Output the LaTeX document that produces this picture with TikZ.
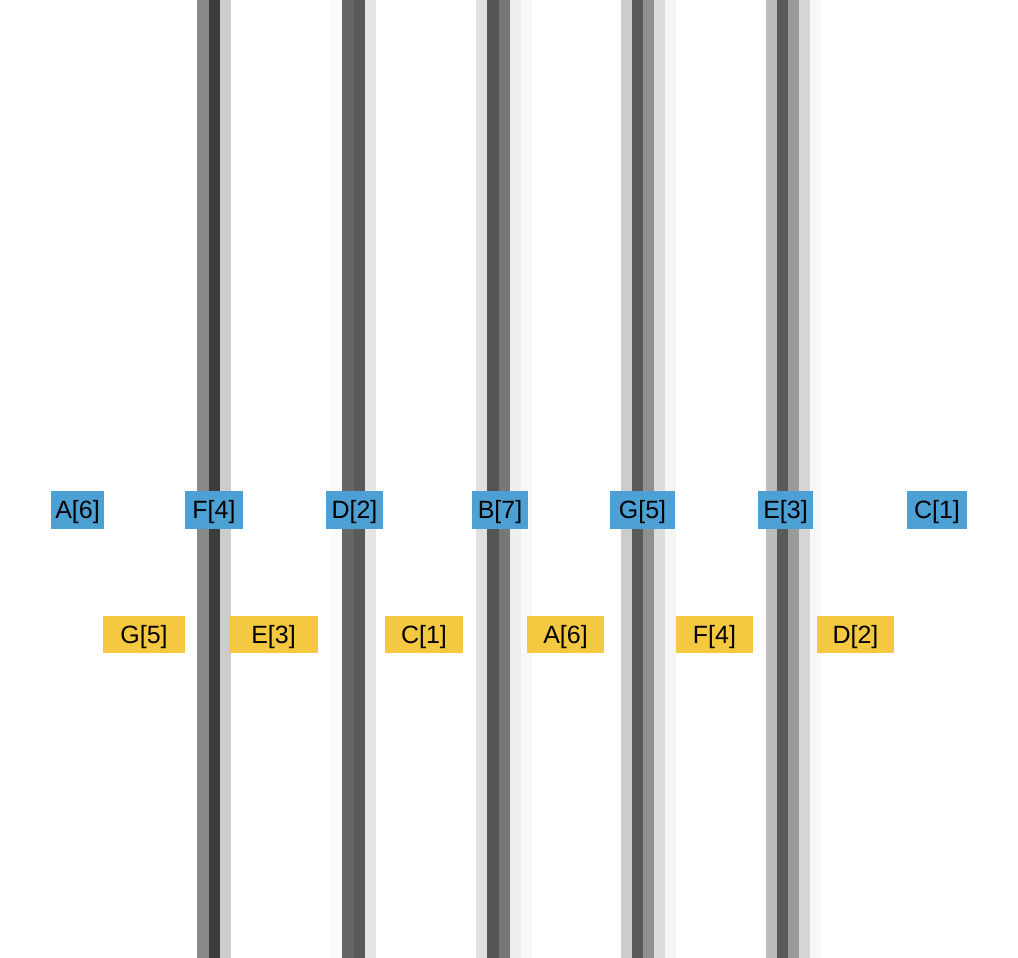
\documentclass[tikz,border=0pt]{standalone}
\usepackage{fontspec}
\setmainfont{Liberation Sans}
\definecolor{lblblue}{HTML}{4DA0D3}
\definecolor{lblyellow}{HTML}{F5C842}
\begin{document}
\begin{tikzpicture}[x=1pt,y=1pt,
  lblbase/.style={rectangle, inner sep=0pt, text height=18pt, text depth=0pt, font=\fontsize{25}{25}\selectfont, text=black},
  toplbl/.style={lblbase, fill=lblblue, minimum height=38pt},
  botlbl/.style={lblbase, fill=lblyellow, minimum height=37pt}]
\useasboundingbox (0,0) rectangle (1018,958);
\fill[white] (0,0) rectangle (1018,958);
% stripes: helper
\def\stripe#1#2#3{\fill[fill=#3] (#1,0) rectangle (#2,958);}
% F bar
\definecolor{s1}{HTML}{888888}\definecolor{s2}{HTML}{3C3C3C}\definecolor{s3}{HTML}{CCCCCC}
\stripe{197}{208.5}{s1}\stripe{208.5}{220}{s2}\stripe{220}{231}{s3}
% D bar
\definecolor{d1}{HTML}{FAFAFA}\definecolor{d2}{HTML}{666666}\definecolor{d3}{HTML}{5A5A5A}\definecolor{d4}{HTML}{E6E6E6}
\stripe{331}{342}{d1}\stripe{342}{353.5}{d2}\stripe{353.5}{365}{d3}\stripe{365}{376}{d4}
% B bar
\definecolor{b1}{HTML}{E0E0E0}\definecolor{b2}{HTML}{555555}\definecolor{b3}{HTML}{777777}\definecolor{b4}{HTML}{EEEEEE}\definecolor{b5}{HTML}{F8F8F8}
\stripe{476}{487}{b1}\stripe{487}{498.5}{b2}\stripe{498.5}{510}{b3}\stripe{510}{521}{b4}\stripe{521}{532}{b5}
% G bar
\definecolor{g1}{HTML}{CCCCCC}\definecolor{g2}{HTML}{5A5A5A}\definecolor{g3}{HTML}{909090}\definecolor{g4}{HTML}{DDDDDD}\definecolor{g5}{HTML}{F5F5F5}
\stripe{621}{632}{g1}\stripe{632}{643}{g2}\stripe{643}{654}{g3}\stripe{654}{665}{g4}\stripe{665}{676}{g5}
% E bar
\definecolor{e1}{HTML}{BBBBBB}\definecolor{e2}{HTML}{5A5A5A}\definecolor{e3}{HTML}{9A9A9A}\definecolor{e4}{HTML}{D5D5D5}\definecolor{e5}{HTML}{F8F8F8}
\stripe{766}{777}{e1}\stripe{777}{788}{e2}\stripe{788}{799}{e3}\stripe{799}{810}{e4}\stripe{810}{821}{e5}
% top labels
\node[toplbl, minimum width=53pt] (tA) at (77.5,448) {A[6]};
\node[toplbl, minimum width=58pt] (tF) at (214,448) {F[4]};
\node[toplbl, minimum width=57pt] (tD) at (354.5,448) {D[2]};
\node[toplbl, minimum width=56pt] (tB) at (500,448) {B[7]};
\node[toplbl, minimum width=65pt] (tG) at (642.5,448) {G[5]};
\node[toplbl, minimum width=55pt] (tE) at (785.5,448) {E[3]};
\node[toplbl, minimum width=60pt] (tC) at (937,448) {C[1]};
% bottom labels
\node[botlbl, minimum width=82pt] (bG) at (144,323.5) {G[5]};
\node[botlbl, minimum width=89pt] (bE) at (273.5,323.5) {E[3]};
\node[botlbl, minimum width=78pt] (bC) at (424,323.5) {C[1]};
\node[botlbl, minimum width=77pt] (bA) at (565.5,323.5) {A[6]};
\node[botlbl, minimum width=77pt] (bF) at (714.5,323.5) {F[4]};
\node[botlbl, minimum width=77pt] (bD) at (855.5,323.5) {D[2]};
\end{tikzpicture}
\end{document}
